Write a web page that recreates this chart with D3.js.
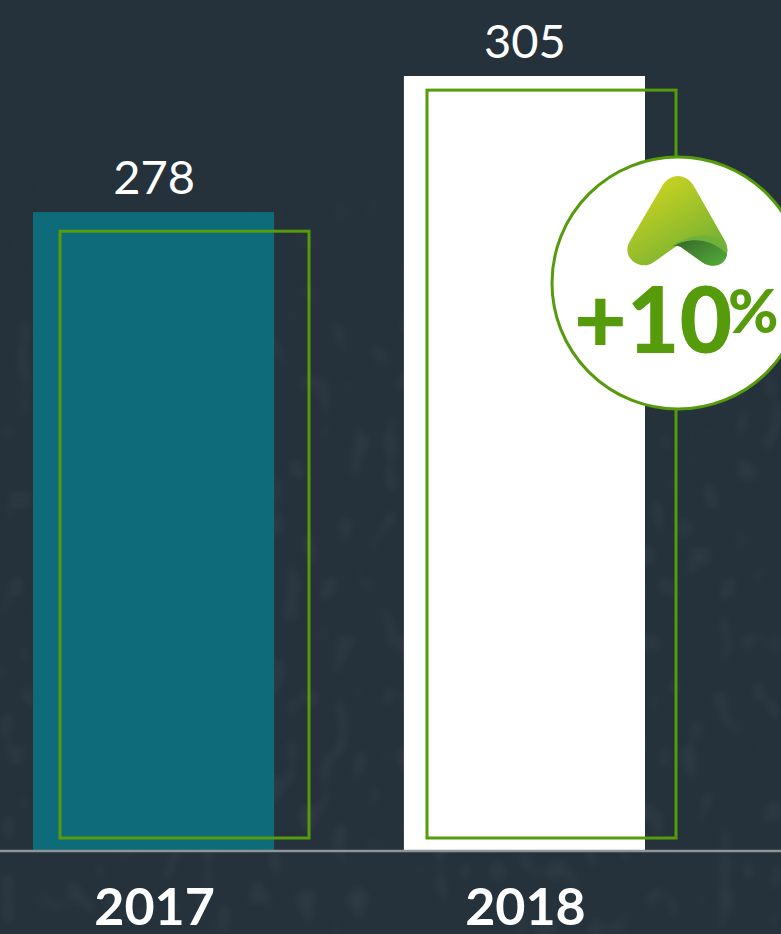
<!DOCTYPE html>
<html>
<head>
<meta charset="utf-8">
<script src="https://cdn.jsdelivr.net/npm/d3@7"></script>
<style>
  html, body { margin: 0; padding: 0; background: #25323c; }
  svg { display: block; }
  text { font-family: Lato, "Open Sans", sans-serif; }
</style>
</head>
<body>
<div id="viz"></div>
<script>
var years = ['2017', '2018'],
    values = [278, 305],
    outlineValues = [274.2, 302.2],
    barColors = ['#0e6b7a', '#ffffff'],
    badgeLabel = '+10',
    badgeUnit = '%';

var width = 781,
    height = 934,
    green = '#559b0c';

var svg = d3.select('#viz').append('svg')
  .attr('width', width)
  .attr('height', height);

var yScale = d3.scaleLinear()
  .domain([151.4, 305])
  .range([850, 76]);

var xScale = d3.scaleBand()
  .domain(years)
  .range([33, 645])
  .paddingInner(.35);

var xOutline = d3.scaleBand()
  .domain(years)
  .range([60, 676])
  .paddingInner(.3215);

var defs = svg.append('defs');

var g1 = defs.append('linearGradient')
  .attr('id', 'logoMain')
  .attr('x1', '.2').attr('y1', '0')
  .attr('x2', '.85').attr('y2', '.95');
g1.append('stop').attr('offset', '0').attr('stop-color', '#d2d61f');
g1.append('stop').attr('offset', '1').attr('stop-color', '#6cad34');

var g2 = defs.append('linearGradient')
  .attr('id', 'logoFold')
  .attr('x1', '0').attr('y1', '.1')
  .attr('x2', '1').attr('y2', '.9');
g2.append('stop').attr('offset', '0').attr('stop-color', '#38692a');
g2.append('stop').attr('offset', '1').attr('stop-color', '#52ab3a');

// faint mottled backdrop, fades out towards the top
var fade = defs.append('linearGradient')
  .attr('id', 'fade')
  .attr('x1', '0').attr('y1', '0')
  .attr('x2', '0').attr('y2', '1');
fade.append('stop').attr('offset', '.15').attr('stop-color', '#000');
fade.append('stop').attr('offset', '.45').attr('stop-color', '#fff');

defs.append('mask')
  .attr('id', 'fadeMask')
  .append('rect')
    .attr('width', width)
    .attr('height', height)
    .attr('fill', 'url(#fade)');

var mottle = defs.append('filter')
  .attr('id', 'mottle')
  .attr('x', 0).attr('y', 0)
  .attr('width', 1).attr('height', 1);
mottle.append('feTurbulence')
  .attr('type', 'fractalNoise')
  .attr('baseFrequency', '.06 .035')
  .attr('numOctaves', 1)
  .attr('seed', 4);
mottle.append('feColorMatrix')
  .attr('values', '0 0 0 0 1  0 0 0 0 1  0 0 0 0 1  0 0 0 7 -4');
mottle.append('feGaussianBlur')
  .attr('stdDeviation', 4);

svg.append('g')
  .attr('mask', 'url(#fadeMask)')
  .append('rect')
    .attr('width', width)
    .attr('height', height)
    .attr('filter', 'url(#mottle)')
    .attr('opacity', .045);

// bars
svg.selectAll('rect.bar').data(values)
  .enter().append('rect')
    .attr('class', 'bar')
    .attr('fill', function(d, i) { return barColors[i]; })
    .attr('x', function(d, i) { return xScale(years[i]); })
    .attr('width', xScale.bandwidth())
    .attr('y', function(d) { return yScale(d); })
    .attr('height', function(d) { return yScale.range()[0] - yScale(d); });

// green outlines
svg.selectAll('rect.outline').data(outlineValues)
  .enter().append('rect')
    .attr('class', 'outline')
    .attr('fill', 'none')
    .attr('stroke', green)
    .attr('stroke-width', 3)
    .attr('x', function(d, i) { return xOutline(years[i]); })
    .attr('width', xOutline.bandwidth())
    .attr('y', function(d) { return yScale(d); })
    .attr('height', function(d) { return 838 - yScale(d); });

// baseline
svg.append('line')
  .attr('x1', 0).attr('x2', width)
  .attr('y1', 851).attr('y2', 851)
  .attr('stroke', '#8f9498')
  .attr('stroke-width', 2.4);

// value labels
svg.selectAll('text.value').data(values)
  .enter().append('text')
    .attr('class', 'value')
    .attr('x', function(d, i) { return xScale(years[i]) + xScale.bandwidth() / 2 + .5; })
    .attr('y', function(d) { return yScale(d) - 18; })
    .attr('text-anchor', 'middle')
    .attr('fill', '#fff')
    .attr('font-size', 47)
    .text(function(d) { return d; });

// year labels
svg.selectAll('text.year').data(years)
  .enter().append('text')
    .attr('class', 'year')
    .attr('x', function(d) { return xScale(d) + xScale.bandwidth() / 2 + 1; })
    .attr('y', 925)
    .attr('text-anchor', 'middle')
    .attr('fill', '#fff')
    .attr('font-size', 52)
    .attr('font-weight', 700)
    .text(function(d) { return d; });

// badge
var badge = svg.append('g').attr('transform', 'translate(678,283)');

badge.append('circle')
  .attr('r', 126)
  .attr('fill', '#fff')
  .attr('stroke', green)
  .attr('stroke-width', 3);

badge.append('path')
  .attr('fill', 'url(#logoMain)')
  .attr('d', 'M-17,-95 C-9,-111 9,-111 17,-95 L47,-42 C56,-25 37,-11 24,-21 L0,-38 L-24,-21 C-37,-11 -58,-25 -48,-42 Z');

// fold of the logo, lighter band behind the dark one
badge.append('path')
  .attr('fill', '#6fb23a')
  .attr('d', 'M-5,-37 C6,-46 28,-54 47,-40 C56,-25 37,-11 24,-21 L3,-36 Q-1,-38 -5,-37 Z');

badge.append('path')
  .attr('fill', 'url(#logoFold)')
  .attr('d', 'M-5,-37 C8,-44 30,-48 49,-29 C48,-17 34,-14 24,-21 L3,-36 Q-1,-38 -5,-37 Z');

badge.append('text')
  .attr('x', -104)
  .attr('y', 70)
  .attr('fill', green)
  .attr('font-size', 91)
  .attr('font-weight', 900)
  .text(badgeLabel);

badge.append('text')
  .attr('x', 50)
  .attr('y', 50)
  .attr('fill', green)
  .attr('font-size', 61)
  .attr('font-weight', 900)
  .text(badgeUnit);
</script>
</body>
</html>
